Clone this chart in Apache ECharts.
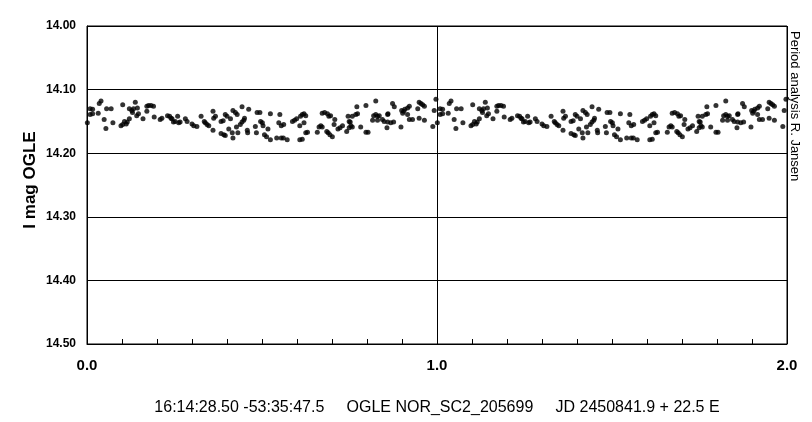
<!DOCTYPE html>
<html>
<head>
<meta charset="utf-8">
<script src="https://cdn.jsdelivr.net/npm/echarts@6/dist/echarts.min.js"></script>
<style>html,body{margin:0;padding:0;background:#fff}#c{width:812px;height:422px}</style>
</head>
<body>
<div id="c"></div>
<script>
// Phase (0..1) of each observation
const phase = [
0.001,0.009,0.016,0.009,0.016,0.032,0.035,0.040,0.049,0.056,0.069,0.054,0.074,0.097,0.102,0.102,0.107,0.112,0.115,0.121,
0.121,0.128,0.133,0.138,0.130,0.142,0.147,0.144,0.160,0.171,0.176,0.183,0.190,0.171,0.192,0.209,0.214,0.230,0.236,0.240,
0.243,0.247,0.252,0.259,0.262,0.266,0.281,0.286,0.300,0.305,0.314,0.326,0.335,0.338,0.343,0.348,0.360,0.362,0.367,0.360,
0.383,0.389,0.383,0.391,0.395,0.395,0.400,0.405,0.410,0.415,0.417,0.417,0.424,0.429,0.427,0.431,0.438,0.443,0.448,0.450,
0.443,0.458,0.459,0.462,0.481,0.484,0.486,0.496,0.494,0.501,0.503,0.507,0.513,0.517,0.524,0.524,0.542,0.555,0.561,0.572,
0.548,0.551,0.555,0.562,0.587,0.593,0.599,0.608,0.615,0.610,0.615,0.620,0.625,0.608,0.620,0.625,0.630,0.658,0.663,0.668,
0.672,0.672,0.679,0.687,0.691,0.696,0.685,0.689,0.694,0.701,0.706,0.708,0.717,0.723,0.730,0.742,0.749,0.754,0.758,0.746,
0.749,0.752,0.758,0.768,0.773,0.771,0.782,0.797,0.803,0.797,0.816,0.819,0.825,0.830,0.835,0.825,0.830,0.844,0.849,0.857,
0.859,0.859,0.860,0.868,0.876,0.873,0.878,0.897,0.899,0.905,0.908,0.916,0.921,0.902,0.916,0.921,0.930,0.945,0.949,0.954,
0.959,0.964,0.949,0.964,0.988,0.992,0.997
];
// I magnitude (OGLE) of each observation
const imag = [
14.152,14.130,14.131,14.139,14.138,14.137,14.122,14.118,14.147,14.130,14.130,14.161,14.152,14.157,14.155,14.124,14.150,14.154,14.151,14.146,
14.130,14.133,14.130,14.120,14.136,14.141,14.138,14.129,14.146,14.126,14.125,14.125,14.126,14.134,14.143,14.147,14.145,14.141,14.142,14.145,
14.146,14.151,14.150,14.142,14.152,14.151,14.146,14.150,14.154,14.157,14.158,14.142,14.150,14.152,14.155,14.157,14.134,14.145,14.142,14.164,
14.150,14.149,14.169,14.171,14.172,14.139,14.142,14.162,14.146,14.168,14.176,14.133,14.136,14.139,14.159,14.168,14.155,14.151,14.148,14.145,
14.127,14.164,14.168,14.131,14.158,14.168,14.136,14.150,14.136,14.152,14.157,14.171,14.174,14.162,14.138,14.179,14.176,14.176,14.176,14.179,
14.152,14.139,14.157,14.155,14.150,14.148,14.146,14.179,14.178,14.142,14.139,14.138,14.141,14.157,14.152,14.168,14.167,14.167,14.159,14.157,
14.159,14.137,14.136,14.138,14.142,14.141,14.166,14.168,14.171,14.174,14.155,14.147,14.162,14.160,14.157,14.166,14.160,14.157,14.159,14.142,
14.150,14.151,14.142,14.139,14.138,14.127,14.159,14.167,14.167,14.125,14.148,14.141,14.139,14.142,14.141,14.118,14.148,14.147,14.150,14.160,
14.151,14.139,14.138,14.152,14.151,14.122,14.127,14.159,14.133,14.134,14.131,14.129,14.126,14.137,14.139,14.147,14.147,14.130,14.120,14.122,
14.124,14.126,14.145,14.148,14.158,14.133,14.115
];
const yTicks = [14.00, 14.10, 14.20, 14.30, 14.40, 14.50];
const xTicks = [0.0, 1.0, 2.0];
const yTitle = 'I mag OGLE';
const footer = '16:14:28.50 -53:35:47.5     OGLE NOR_SC2_205699     JD 2450841.9 + 22.5 E';
const sideNote = 'Period analysis R. Jansen';

const pts = [];
for (let i = 0; i < phase.length; i++) {
  pts.push([phase[i], imag[i]]);
  pts.push([phase[i] + 1, imag[i]]);
}

const chart = echarts.init(document.getElementById('c'), null, {renderer: 'canvas'});
chart.setOption({
  animation: false,
  backgroundColor: '#fff',
  grid: {left: 87, right: 25, top: 26, bottom: 78, show: true, borderColor: '#000', borderWidth: 1},
  xAxis: {
    type: 'value', min: xTicks[0], max: xTicks[xTicks.length - 1], interval: 1,
    axisLine: {lineStyle: {color: '#000', width: 1}},
    axisTick: {show: true, inside: true, length: 5, lineStyle: {color: '#000'}},
    minorTick: {show: true, splitNumber: 10, length: 5, lineStyle: {color: '#000'}},
    splitLine: {show: true, lineStyle: {color: '#000', width: 1}},
    axisLabel: {color: '#000', fontFamily: 'Liberation Sans, Arial', fontWeight: 'bold', fontSize: 15, margin: 14,
      formatter: v => v.toFixed(1)}
  },
  yAxis: {
    type: 'value', inverse: true, min: yTicks[0], max: yTicks[yTicks.length - 1], interval: 0.1,
    axisLine: {show: true, lineStyle: {color: '#000', width: 1}},
    axisTick: {show: false},
    splitLine: {show: true, lineStyle: {color: '#000', width: 1}},
    axisLabel: {color: '#000', fontFamily: 'Liberation Sans, Arial', fontWeight: 'bold', fontSize: 12, margin: 11,
      formatter: v => v.toFixed(2)}
  },
  series: [{
    type: 'scatter', data: pts, symbol: 'circle', symbolSize: 5,
    itemStyle: {color: '#000'}
  }],
  graphic: [
    {type: 'text', x: 30, y: 180, rotation: Math.PI / 2,
      style: {text: yTitle, fill: '#000', font: 'bold 17px "Liberation Sans", Arial', textAlign: 'center', textVerticalAlign: 'middle'}},
    {type: 'text', x: 437, y: 408,
      style: {text: footer, fill: '#000', font: '16px "Liberation Sans", Arial', textAlign: 'center', textVerticalAlign: 'middle'}},
    {type: 'text', rotation: -Math.PI / 2, x: 801, y: 31,
      style: {text: sideNote, fill: '#000', font: '13px "Liberation Sans", Arial', textAlign: 'left', textVerticalAlign: 'top'}}
  ]
});
</script>
</body>
</html>
